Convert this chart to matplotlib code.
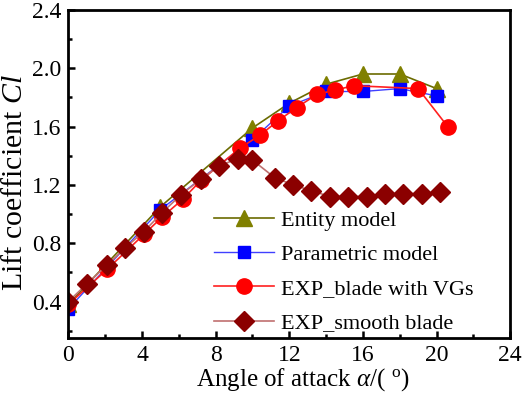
import matplotlib
matplotlib.use('Agg')
import matplotlib.pyplot as plt
from matplotlib.ticker import MultipleLocator

plt.rcParams['font.family'] = 'Liberation Serif'
plt.rcParams['mathtext.fontset'] = 'custom'
plt.rcParams['mathtext.rm'] = 'Liberation Serif'
plt.rcParams['mathtext.it'] = 'Liberation Serif:italic'

# Entity model (CFD)
ent_x = [0, 5, 10, 12, 14, 16, 18, 20]
ent_y = [0.38, 1.05, 1.59, 1.76, 1.89, 1.96, 1.96, 1.86]

# Parametric model
par_x = [0, 5, 10, 12, 14, 16, 18, 20]
par_y = [0.35, 1.03, 1.51, 1.74, 1.84, 1.84, 1.86, 1.81]

# EXP blade with VGs
vg_x = [0, 2.1, 4.1, 5.1, 6.2, 7.2, 9.3, 10.4, 11.4, 12.4, 13.5, 14.5, 15.5, 19.0, 20.6]
vg_y = [0.38, 0.62, 0.86, 0.98, 1.10, 1.23, 1.45, 1.54, 1.64, 1.73, 1.82, 1.85, 1.88, 1.86, 1.60]

# EXP smooth blade
sm_x = [0, 1, 2.1, 3.1, 4.1, 5.1, 6.1, 7.2, 8.2, 9.2, 10.0, 11.2, 12.2, 13.2,
        14.2, 15.2, 16.2, 17.2, 18.2, 19.2, 20.2]
sm_y = [0.40, 0.52, 0.65, 0.77, 0.88, 1.01, 1.13, 1.24, 1.33, 1.38, 1.37, 1.25,
        1.20, 1.16, 1.12, 1.12, 1.12, 1.14, 1.14, 1.14, 1.15]

fig = plt.figure(figsize=(5.26, 3.93), dpi=100)
ax = fig.add_axes([0.130, 0.140, 0.840, 0.835])

ax.plot(ent_x, ent_y, color='#6b6b00', lw=1.2, marker='^', ms=11,
        mfc='#808000', mec='#808000', label='Entity model')
ax.plot(par_x, par_y, color='#4040ff', lw=1.0, marker='s', ms=9,
        mfc='#0000ff', mec='#0000ff', label='Parametric model')
ax.plot(vg_x, vg_y, color='#ff2020', lw=1.2, marker='o', ms=11,
        mfc='#ff0000', mec='#ff0000', label='EXP_blade with VGs')
ax.plot(sm_x, sm_y, color='#c07070', lw=1.2, marker='D', ms=10,
        mfc='#8b0000', mec='#8b0000', label='EXP_smooth blade')

ax.set_xlim(0, 24)
ax.set_ylim(0.15, 2.4)
ax.xaxis.set_major_locator(MultipleLocator(4))
ax.xaxis.set_minor_locator(MultipleLocator(2))
ax.yaxis.set_major_locator(MultipleLocator(0.4))
ax.yaxis.set_minor_locator(MultipleLocator(0.2))
ax.set_yticks([0.4, 0.8, 1.2, 1.6, 2.0, 2.4])

ax.tick_params(which='both', direction='in', labelsize=17, width=1.8)
ax.tick_params(which='major', length=5, pad=5)
ax.tick_params(which='minor', length=3)
for s in ax.spines.values():
    s.set_linewidth(2)

ax.set_xlabel(r'Angle of attack $\mathit{\alpha}$/( $^{\mathrm{o}}$)', fontsize=18, labelpad=0)
ax.xaxis.set_label_coords(0.531, -0.085)
ax.set_ylabel(r'Lift coefficient $\mathit{Cl}$', fontsize=21.5)
ax.yaxis.set_label_coords(-0.092, 0.474)

ax.legend(loc='upper left', bbox_to_anchor=(0.33, 0.39), frameon=False,
          fontsize=16, handlelength=2.7, labelspacing=0.62, handletextpad=0.3,
          borderpad=0, borderaxespad=0)

fig.savefig('out.png', dpi=100)
